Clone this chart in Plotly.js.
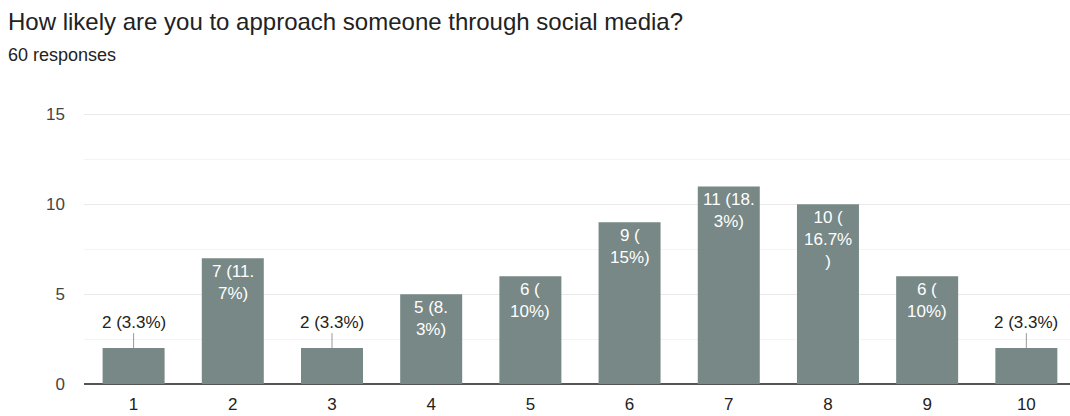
<!DOCTYPE html>
<html>
<head>
<meta charset="utf-8">
<script src="https://cdn.plot.ly/plotly-3.0.1.min.js"></script>
<style>
html,body{margin:0;padding:0;background:#fff;}
#chart{width:1070px;height:416px;}
</style>
</head>
<body>
<div id="chart"></div>
<script>
var categories = ["1","2","3","4","5","6","7","8","9","10"];
var counts = [2, 7, 2, 5, 6, 9, 11, 10, 6, 2];
var labels = ["2 (3.3%)", "7 (11.<br>7%)", "2 (3.3%)", "5 (8.<br>3%)", "6 (<br>10%)", "9 (<br>15%)", "11 (18.<br>3%)", "10 (<br>16.7%<br>)", "6 (<br>10%)", "2 (3.3%)"];
var outsideLabel = [true, false, true, false, false, false, false, false, false, true];
var yTicks = [0, 5, 10, 15];
var titleText = "How likely are you to approach someone through social media?";
var subtitleText = "60 responses";

var W = 1070, H = 416;
var mL = 84, mR = 0, mT = 112, mB = 32;
var plotW = W - mL - mR;
var FONT = 'Liberation Sans, Arial, sans-serif';

var annotations = [];
for (var i = 0; i < categories.length; i++) {
  if (outsideLabel[i]) {
    annotations.push({
      x: i, y: counts[i], xref: 'x', yref: 'y',
      text: labels[i], showarrow: true, arrowhead: 0, arrowwidth: 1,
      arrowcolor: '#999999', ax: 0, ay: -26, standoff: 0,
      font: {family: FONT, size: 17, color: '#222222'}
    });
  } else {
    annotations.push({
      x: i, y: counts[i], xref: 'x', yref: 'y',
      text: labels[i], showarrow: false, yanchor: 'top', yshift: -2,
      font: {family: FONT, size: 17, color: '#ffffff'}
    });
  }
}
annotations.push({
  text: subtitleText, xref: 'paper', yref: 'paper',
  x: (6 - mL) / plotW, xanchor: 'left',
  y: 1 + (mT - 55) / (H - mT - mB), yanchor: 'middle',
  showarrow: false,
  font: {family: FONT, size: 18, color: '#222222'}
});

var trace = {
  type: 'bar', x: categories, y: counts,
  marker: {color: '#778886', line: {width: 0}},
  hoverinfo: 'none'
};

var layout = {
  width: W, height: H,
  margin: {l: mL, r: mR, t: mT, b: mB, pad: 0},
  paper_bgcolor: '#ffffff', plot_bgcolor: '#ffffff',
  bargap: 0.375,
  showlegend: false,
  title: {
    text: titleText, xref: 'container', yref: 'container',
    x: 8 / W, xanchor: 'left', y: 1 - 22 / H, yanchor: 'middle',
    font: {family: FONT, size: 24, color: '#222222'}
  },
  xaxis: {
    type: 'category', range: [-0.5, 9.44], fixedrange: true,
    showgrid: false, zeroline: false, showline: false,
    ticks: '', ticklen: 0, ticklabelstandoff: 8,
    tickfont: {family: FONT, size: 17, color: '#222222'}
  },
  yaxis: {
    range: [0, 15.14], tickvals: yTicks, ticktext: yTicks.map(String),
    showgrid: true, gridcolor: '#e9e9e9', gridwidth: 1,
    zeroline: true, zerolinecolor: '#555555', zerolinewidth: 2,
    showline: false, ticks: '', ticklabelstandoff: 18,
    tickfont: {family: FONT, size: 17, color: '#444444'},
    minor: {dtick: 2.5, tick0: 0, showgrid: true, gridcolor: '#f4f4f4', gridwidth: 1, ticks: ''}
  },
  annotations: annotations
};

Plotly.newPlot('chart', [trace], layout, {displayModeBar: false, staticPlot: true});
</script>
</body>
</html>
